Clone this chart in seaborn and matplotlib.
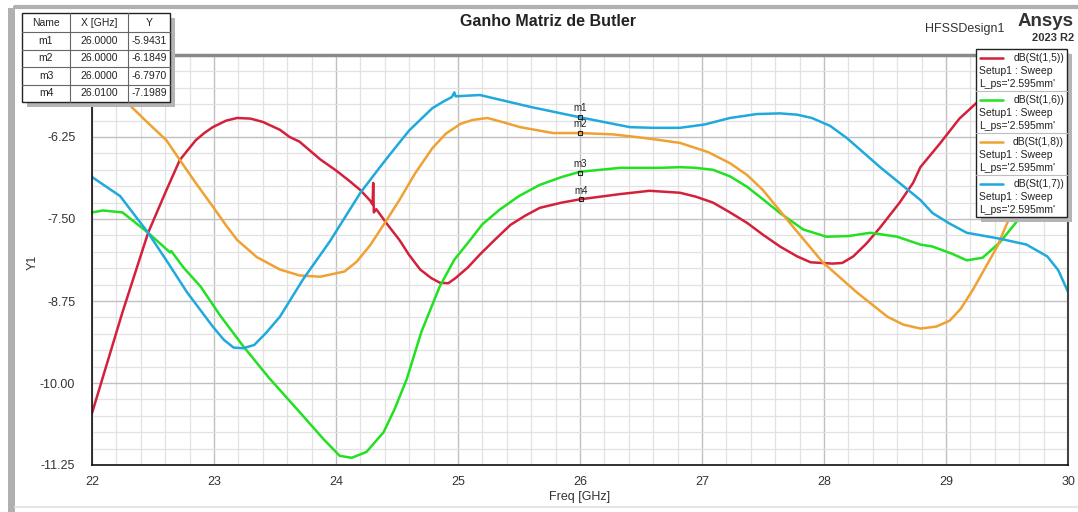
import numpy as np
import pandas as pd
import matplotlib
matplotlib.use("Agg")
import matplotlib.pyplot as plt
import seaborn as sns
from matplotlib.patches import Rectangle
from matplotlib.lines import Line2D
from matplotlib.ticker import MultipleLocator, FixedLocator

# ---------------- data ----------------
trace_names = ["dB(St(1,5))", "dB(St(1,6))", "dB(St(1,8))", "dB(St(1,7))"]
trace_colors = ["#d3213c", "#22e022", "#efa132", "#1fa9dd"]

freq_15 = [22.00, 22.25, 22.46, 22.61, 22.72, 22.85, 22.92, 22.99, 23.10, 23.19, 23.30,
           23.40, 23.54, 23.62, 23.70, 23.87, 24.00, 24.11, 24.20, 24.28, 24.30, 24.305,
           24.31, 24.33, 24.42, 24.52, 24.60, 24.69, 24.78, 24.85, 24.92, 24.98, 25.08,
           25.18, 25.30, 25.43, 25.55, 25.67, 25.85, 26.00, 26.33, 26.57, 26.82, 26.95,
           27.09, 27.23, 27.37, 27.50, 27.64, 27.78, 27.89, 28.07, 28.15, 28.24, 28.35,
           28.46, 28.62, 28.73, 28.79, 28.95, 29.11, 29.25, 29.50, 29.75, 30.00]
db_15 = [-10.46, -8.92, -7.71, -7.06, -6.60, -6.30, -6.19, -6.10, -6.00, -5.96, -5.97,
         -6.02, -6.14, -6.25, -6.32, -6.59, -6.76, -6.92, -7.06, -7.22, -7.28, -6.95,
         -7.40, -7.35, -7.58, -7.82, -8.05, -8.27, -8.40, -8.47, -8.48, -8.40, -8.24,
         -8.04, -7.82, -7.59, -7.45, -7.33, -7.25, -7.20, -7.12, -7.07, -7.10, -7.16,
         -7.25, -7.40, -7.56, -7.74, -7.92, -8.07, -8.16, -8.18, -8.17, -8.07, -7.87,
         -7.63, -7.25, -6.95, -6.71, -6.35, -5.97, -5.73, -5.45, -5.25, -5.10]

freq_16 = [22.00, 22.09, 22.25, 22.46, 22.64, 22.65, 22.75, 22.89, 23.05, 23.24, 23.45,
           23.70, 23.90, 24.03, 24.13, 24.25, 24.39, 24.48, 24.58, 24.70, 24.85, 24.97,
           25.10, 25.20, 25.34, 25.50, 25.67, 25.85, 26.00, 26.33, 26.66, 26.82, 26.95,
           27.09, 27.23, 27.37, 27.50, 27.64, 27.83, 28.02, 28.20, 28.38, 28.60, 28.79,
           28.89, 29.05, 29.17, 29.30, 29.44, 29.61, 29.80, 30.00]
db_16 = [-7.40, -7.37, -7.40, -7.71, -8.01, -7.99, -8.24, -8.53, -8.97, -9.44, -9.92,
         -10.44, -10.86, -11.11, -11.14, -11.05, -10.75, -10.40, -9.94, -9.22, -8.53,
         -8.12, -7.82, -7.58, -7.36, -7.15, -6.98, -6.86, -6.78, -6.72, -6.72, -6.71,
         -6.72, -6.75, -6.85, -7.01, -7.20, -7.41, -7.66, -7.77, -7.76, -7.71, -7.77,
         -7.89, -7.92, -8.03, -8.13, -8.09, -7.86, -7.47, -7.00, -6.52]

freq_18 = [22.00, 22.29, 22.45, 22.61, 22.72, 22.85, 22.99, 23.10, 23.19, 23.35, 23.54,
           23.70, 23.87, 24.07, 24.17, 24.28, 24.40, 24.52, 24.65, 24.79, 24.90, 25.02,
           25.12, 25.24, 25.38, 25.51, 25.78, 26.00, 26.27, 26.55, 26.82, 27.05, 27.23,
           27.37, 27.50, 27.72, 27.99, 28.27, 28.52, 28.65, 28.79, 28.92, 29.03, 29.12,
           29.22, 29.42, 29.52, 29.75, 30.00]
db_18 = [-5.15, -5.73, -6.02, -6.30, -6.60, -6.95, -7.31, -7.60, -7.82, -8.08, -8.27,
         -8.36, -8.38, -8.30, -8.15, -7.90, -7.56, -7.21, -6.80, -6.42, -6.20, -6.05,
         -5.99, -5.96, -6.03, -6.10, -6.19, -6.19, -6.21, -6.27, -6.34, -6.48, -6.65,
         -6.83, -7.06, -7.56, -8.16, -8.62, -8.99, -9.11, -9.17, -9.14, -9.05, -8.87,
         -8.58, -7.92, -7.48, -6.80, -6.30]

freq_17 = [22.00, 22.23, 22.46, 22.62, 22.78, 22.99, 23.08, 23.16, 23.24, 23.33, 23.43,
           23.54, 23.73, 23.95, 24.20, 24.36, 24.44, 24.60, 24.79, 24.88, 24.95, 24.97,
           24.98, 25.18, 25.59, 26.00, 26.41, 26.60, 26.82, 27.02, 27.23, 27.45, 27.64,
           27.78, 27.90, 28.05, 28.19, 28.46, 28.79, 28.89, 29.03, 29.17, 29.44, 29.66,
           29.83, 29.92, 30.00]
db_17 = [-6.86, -7.15, -7.71, -8.16, -8.62, -9.14, -9.34, -9.46, -9.47, -9.42, -9.23,
         -8.99, -8.42, -7.84, -7.10, -6.71, -6.52, -6.15, -5.81, -5.71, -5.64, -5.57,
         -5.63, -5.61, -5.79, -5.95, -6.10, -6.11, -6.11, -6.06, -5.96, -5.90, -5.89,
         -5.91, -5.96, -6.08, -6.27, -6.71, -7.21, -7.41, -7.57, -7.71, -7.80, -7.89,
         -8.07, -8.28, -8.61]

marker_names = ["m1", "m2", "m3", "m4"]
marker_x = [26.0000, 26.0000, 26.0000, 26.0100]
marker_y = [-5.9431, -6.1849, -6.7970, -7.1989]

x_ticks = [22, 23, 24, 25, 26, 27, 28, 29, 30]
y_ticks = [-11.25, -10.00, -8.75, -7.50, -6.25]
y_tick_labels = ["-11.25", "-10.00", "-8.75", "-7.50", "-6.25"]

title = "Ganho Matriz de Butler"
x_label = "Freq [GHz]"
y_label = "Y1"
setup_text = "Setup1 : Sweep"
param_text = "L_ps='2.595mm'"

# ---------------- table ----------------
frames = []
for name, fx, fy in zip(trace_names,
                        [freq_15, freq_16, freq_18, freq_17],
                        [db_15, db_16, db_18, db_17]):
    frames.append(pd.DataFrame({"freq": fx, "db": fy, "trace": name}))
df = pd.concat(frames, ignore_index=True)

sns.set_style("white")
plt.rcParams["font.family"] = ["Liberation Sans", "DejaVu Sans"]

W, H = 1078, 512
fig = plt.figure(figsize=(W / 100, H / 100), dpi=100)
fig.patch.set_facecolor("white")


def F(px, py):
    return px / W, 1 - py / H


ax = fig.add_axes([92 / W, 1 - 465 / H, (1068 - 92) / W, (465 - 55) / H])
sns.lineplot(data=df, x="freq", y="db", hue="trace",
             palette=dict(zip(trace_names, trace_colors)),
             estimator=None, sort=False, linewidth=1.8, legend=False, ax=ax)

ax.set_xlim(22, 30)
ax.set_ylim(-11.25, -5.0)
ax.xaxis.set_major_locator(FixedLocator(x_ticks))
ax.xaxis.set_minor_locator(MultipleLocator(0.2))
ax.yaxis.set_major_locator(FixedLocator(y_ticks))
ax.set_yticklabels(y_tick_labels)
ax.yaxis.set_minor_locator(MultipleLocator(0.25))
ax.grid(which="minor", color="#e2e2e2", linewidth=0.9)
ax.grid(which="major", color="#c0c0c0", linewidth=1.0)
ax.set_axisbelow(True)
ax.tick_params(axis="x", which="major", direction="out", length=6, width=1,
               color="#333333", labelsize=9, labelcolor="#333333", pad=2)
ax.tick_params(axis="x", which="minor", direction="out", length=3, width=0.8,
               color="#333333")
ax.tick_params(axis="y", which="major", direction="out", length=10, width=1,
               color="#333333", labelsize=9, labelcolor="#333333", pad=2)
ax.tick_params(axis="y", which="minor", direction="out", length=6, width=0.8,
               color="#333333")
ax.set_xlabel("")
ax.set_ylabel("")
for s in ["left", "bottom"]:
    ax.spines[s].set_color("#111111")
    ax.spines[s].set_linewidth(1.2)
ax.spines["top"].set_color("#8a8a8a")
ax.spines["top"].set_linewidth(2.5)
ax.spines["right"].set_color("#444444")
ax.spines["right"].set_linewidth(1.5)

# markers
ax.plot(marker_x, marker_y, "s", ms=3, mfc="none", mec="#222222", mew=0.8, zorder=5)
for n, mx, my in zip(marker_names, marker_x, marker_y):
    ax.annotate(n, (mx, my), xytext=(0, 2.5), textcoords="offset points",
                ha="center", va="bottom", fontsize=7, color="#222222", zorder=6)

# labels and titles
fig.text(*F(548, 22), title, ha="center", va="center", fontsize=11.5,
         fontweight="bold", color="#222222")
fig.text(*F(580, 497), x_label, ha="center", va="center", fontsize=9, color="#333333")
fig.text(*F(33, 262), y_label, ha="center", va="center", fontsize=9,
         color="#333333", rotation=90)
fig.text(*F(1005, 29), "HFSSDesign1", ha="right", va="center", fontsize=9,
         color="#333333")
fig.text(*F(1074, 22), "Ansys", ha="right", va="center", fontsize=13.5,
         fontweight="bold", color="#333333")
fig.text(*F(1074, 38), "2023 R2", ha="right", va="center", fontsize=8,
         fontweight="bold", color="#333333")

# outer frame decoration
fig.add_artist(Rectangle(F(8, 512), 7 / W, (512 - 8) / H, transform=fig.transFigure,
                         facecolor="#b0b0b0", edgecolor="none", zorder=1))
fig.add_artist(Line2D([15 / W, 1.0], [1 - 7 / H, 1 - 7 / H], transform=fig.transFigure,
                      color="#b0b0b0", linewidth=3, zorder=1))
fig.add_artist(Line2D([15 / W, 1.0], [1 - 507 / H, 1 - 507 / H], transform=fig.transFigure,
                      color="#e6e6e6", linewidth=1.5, zorder=1))


def box(x0, y0, x1, y1, fc, ec, lw, z):
    fig.add_artist(Rectangle(F(x0, y1), (x1 - x0) / W, (y1 - y0) / H,
                             transform=fig.transFigure, facecolor=fc, edgecolor=ec,
                             linewidth=lw, zorder=z))


def hline(x0, x1, y, c, lw, z):
    fig.add_artist(Line2D([x0 / W, x1 / W], [1 - y / H, 1 - y / H],
                          transform=fig.transFigure, color=c, linewidth=lw, zorder=z))


def vline(x, y0, y1, c, lw, z):
    fig.add_artist(Line2D([x / W, x / W], [1 - y0 / H, 1 - y1 / H],
                          transform=fig.transFigure, color=c, linewidth=lw, zorder=z))


# marker table
tx = [22, 70, 128, 170]
ty = [13, 32, 49.5, 67, 84.5, 102]
box(tx[0] + 5, ty[0] + 5, tx[-1] + 5, ty[-1] + 5, "#b4b4b4", "none", 0, 10)
box(tx[0], ty[0], tx[-1], ty[-1], "white", "#222222", 1.0, 11)
for y in ty[1:-1]:
    hline(tx[0], tx[-1], y, "#666666", 0.8, 12)
for x in tx[1:-1]:
    vline(x, ty[0], ty[-1], "#666666", 0.8, 12)
rows = [["Name", "X [GHz]", "Y"]] + [
    [n, f"{mx:.4f}", f"{my:.4f}"] for n, mx, my in zip(marker_names, marker_x, marker_y)]
for r, row in enumerate(rows):
    yc = (ty[r] + ty[r + 1]) / 2
    for c, val in enumerate(row):
        xc = (tx[c] + tx[c + 1]) / 2
        fig.text(*F(xc, yc), val, ha="center", va="center", fontsize=7.5,
                 color="#222222", zorder=13)

# legend
lx0, lx1, ly0, ly1 = 976, 1067, 49, 217
box(lx0 + 5, ly0 + 5, lx1 + 5, ly1 + 5, "#b4b4b4", "none", 0, 10)
box(lx0, ly0, lx1, ly1, "white", "#222222", 1.0, 11)
step = (ly1 - ly0) / 4
for i, (name, col) in enumerate(zip(trace_names, trace_colors)):
    y0 = ly0 + i * step
    if i > 0:
        hline(lx0, lx1, y0, "#bdbdbd", 0.8, 12)
    hline(lx0 + 4, lx0 + 27, y0 + 9, col, 1.8, 12)
    fig.text(*F(lx1 - 3, y0 + 9), name, ha="right", va="center", fontsize=7.5,
             color="#222222", zorder=13)
    fig.text(*F(lx0 + 3, y0 + 22), setup_text, ha="left", va="center", fontsize=7.5,
             color="#222222", zorder=13)
    fig.text(*F(lx0 + 3, y0 + 35), param_text, ha="left", va="center", fontsize=7.5,
             color="#222222", zorder=13)

fig.savefig("out.png", dpi=100, facecolor="white")
